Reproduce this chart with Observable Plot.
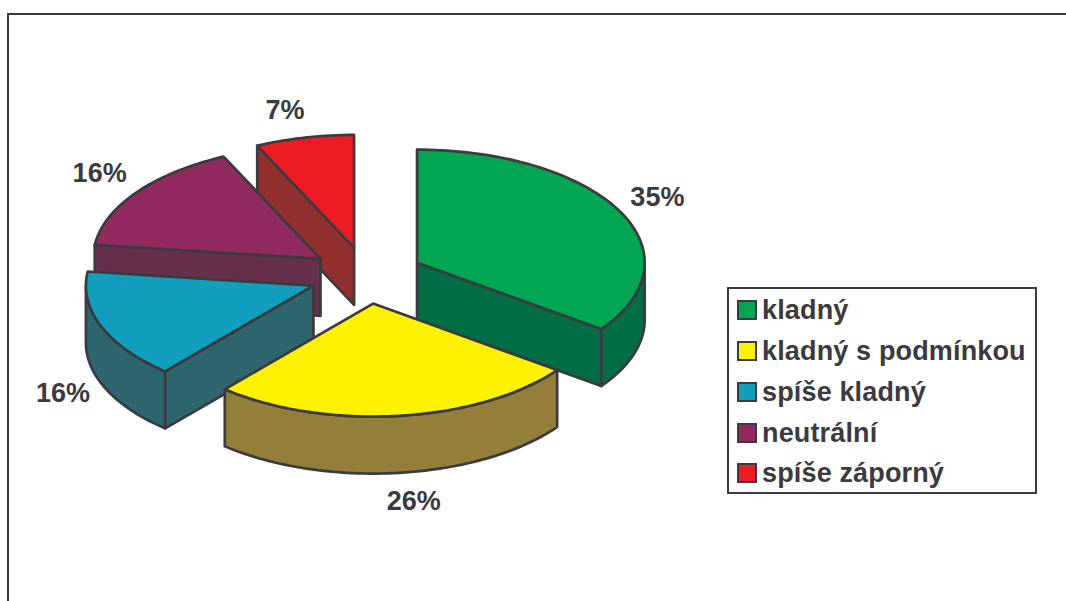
<!DOCTYPE html>
<html lang="cs">
<head>
<meta charset="utf-8">
<script src="https://cdn.jsdelivr.net/npm/d3@7"></script>
<script src="https://cdn.jsdelivr.net/npm/@observablehq/plot@0.6"></script>
<style>
  html, body { margin: 0; padding: 0; background: #fff; }
  body { width: 1066px; height: 601px; overflow: hidden; position: relative; font-family: "Liberation Sans", Arial, sans-serif; }
  #chart svg { display: block; position: absolute; left: 0; top: 0; }
  #frame { position: absolute; left: 7px; top: 13px; width: 1066px; height: 700px; border: 2.5px solid #3a3a40; box-sizing: border-box; }
  #legend { position: absolute; left: 727px; top: 287px; width: 310px; height: 207px; border: 2px solid #3a3a40; box-sizing: border-box; background: #fff; }
  .row { position: absolute; left: 8px; height: 21px; white-space: nowrap; color: #3a3a40; font-weight: 700; font-size: 27px; letter-spacing: 0.15px; line-height: 21px; }
  .sw { position: absolute; left: 0; top: 0; width: 20px; height: 20px; border: 2.4px solid #3a3a40; box-sizing: border-box; }
  .tx { position: absolute; left: 25px; top: 0; }
</style>
</head>
<body>
<div id="frame"></div>
<div id="chart"></div>
<div id="legend"></div>
<script>
const categories = ["kladný", "kladný s podmínkou", "spíše kladný", "neutrální", "spíše záporný"];
const shares = [35, 26.3, 15.7, 16, 7];
const labels = ["35%", "26%", "16%", "16%", "7%"];
const topColors = ["#00a651", "#fff200", "#129fbd", "#912b5f", "#ed1c24"];
const sideColors = ["#006d44", "#947f3a", "#2e6670", "#66304d", "#92302f"];

// layout of the 3D pie
const W = 1066, H = 601, CX = 366, CY = 275, RX = 227.5, RY = 113;
const EXPLODE = 0.25, DEPTH = 57 / RY;
const labelRadial = [[1.185, 1.27], [1.54, 1.76], [1.18, 2.65], [1.2, 1.29], [1.39, 1.25]];
const paintOrder = [4, 3, 2, 0, 1];

const rad = (a) => (a * Math.PI) / 180;
const totals = d3.sum(shares);
let acc = 0;
const slices = shares.map((v, i) => {
  const a0 = (acc / totals) * 360;
  acc += v;
  const a1 = (acc / totals) * 360;
  const mid = (a0 + a1) / 2;
  return {i, a0, a1, mid, ox: EXPLODE * Math.sin(rad(mid)), oy: EXPLODE * Math.cos(rad(mid))};
});

const rows = [];
function poly(id, fill, pts) {
  [...pts, pts[0]].forEach(([x, y]) => rows.push({id, fill, x, y}));
}
function arc(s, from, to, drop = 0) {
  const n = Math.max(2, Math.ceil(Math.abs(to - from) / 1.5));
  return d3.range(n + 1).map((k) => {
    const a = rad(from + ((to - from) * k) / n);
    return [s.ox + Math.sin(a), s.oy + Math.cos(a) - drop];
  });
}
for (const i of paintOrder) {
  const s = slices[i];
  const c = [s.ox, s.oy];
  const side = sideColors[i];
  const edge = (a) => [s.ox + Math.sin(rad(a)), s.oy + Math.cos(rad(a))];
  const face = (a, tag) => {
    const e = edge(a);
    poly(`${i}-${tag}`, side, [c, e, [e[0], e[1] - DEPTH], [c[0], c[1] - DEPTH]]);
  };
  if (Math.sin(rad(s.a0)) <= 0) face(s.a0, "start");
  if (Math.sin(rad(s.a1)) >= 0) face(s.a1, "end");
  const r0 = Math.max(s.a0, 90), r1 = Math.min(s.a1, 270);
  if (r0 < r1) poly(`${i}-rim`, side, [...arc(s, r0, r1), ...arc(s, r1, r0, DEPTH)]);
  poly(`${i}-top`, topColors[i], [c, ...arc(s, s.a0, s.a1)]);
}

const labelRows = slices.map((s) => ({
  text: labels[s.i],
  x: s.ox + labelRadial[s.i][0] * Math.sin(rad(s.mid)),
  y: s.oy + labelRadial[s.i][1] * Math.cos(rad(s.mid))
}));

const plot = Plot.plot({
  width: W, height: H,
  margin: 0,
  style: {background: "transparent", overflow: "visible"},
  x: {domain: [-CX / RX, (W - CX) / RX], range: [0, W], axis: null},
  y: {domain: [(CY - H) / RY, CY / RY], range: [H, 0], axis: null},
  color: {type: "identity"},
  marks: [
    Plot.line(rows, {x: "x", y: "y", z: "id", fill: "fill", stroke: "#3a3a40", strokeWidth: 2.7, strokeLinejoin: "round"}),
    Plot.text(labelRows, {x: "x", y: "y", text: "text", fill: "#3a3a40", fontSize: 27, fontWeight: 700, fontFamily: "'Liberation Sans', Arial, sans-serif"})
  ]
});
document.getElementById("chart").append(plot);

const legend = document.getElementById("legend");
const legendTop = [11, 52, 93, 134, 174];
categories.forEach((name, i) => {
  const row = document.createElement("div");
  row.className = "row";
  row.style.top = legendTop[i] + "px";
  const sw = document.createElement("span");
  sw.className = "sw";
  sw.style.background = topColors[i];
  const tx = document.createElement("span");
  tx.className = "tx";
  tx.textContent = name;
  row.append(sw, tx);
  legend.append(row);
});
</script>
</body>
</html>
